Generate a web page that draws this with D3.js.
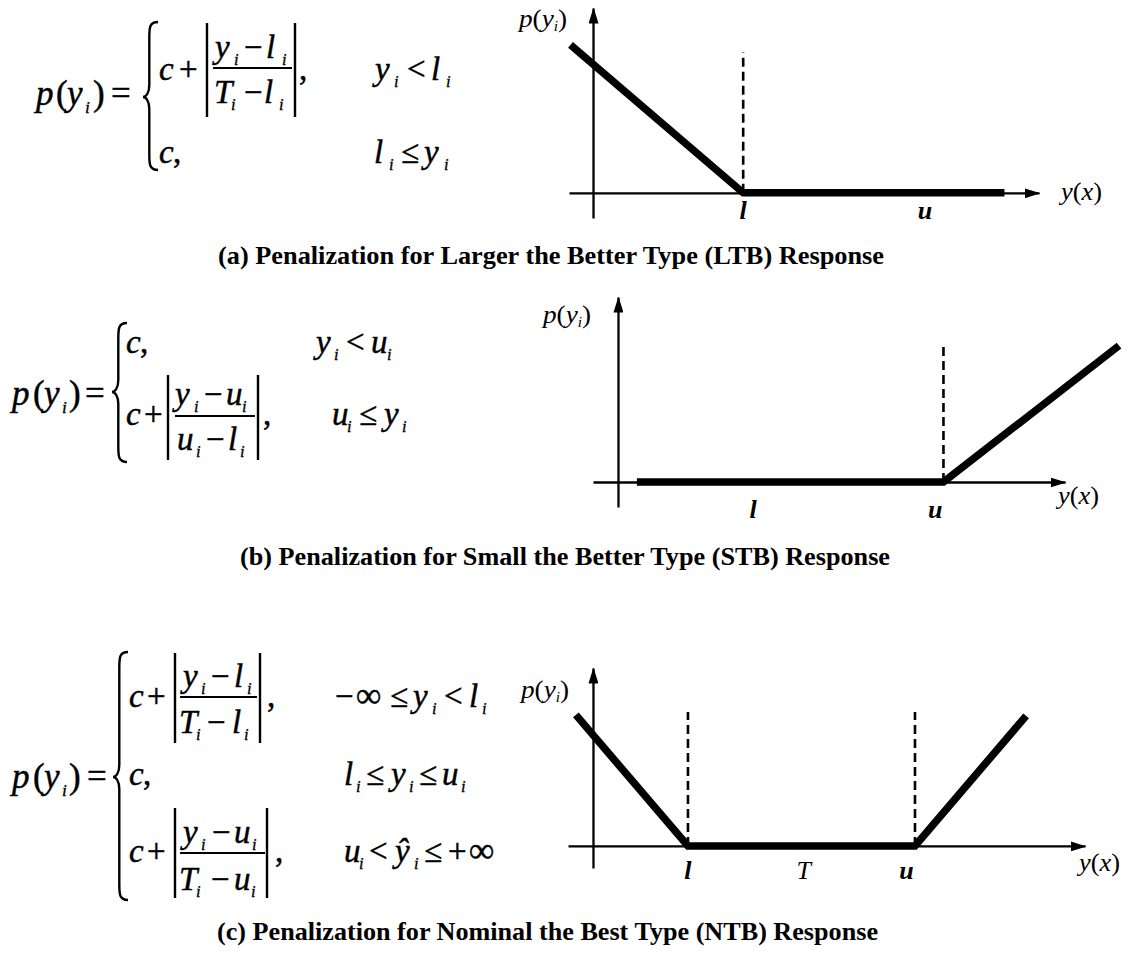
<!DOCTYPE html>
<html>
<head>
<meta charset="utf-8">
<script src="https://cdn.jsdelivr.net/npm/d3@7"></script>
<style>
  html, body { margin: 0; padding: 0; background: #fff; }
  svg { display: block; }
  text { font-family: "Liberation Serif", "Times New Roman", serif; fill: #000; }
</style>
</head>
<body>
<svg id="chart" width="1133" height="953"></svg>
<script>
// ---------------- DATA (schematic values, y-axis at x = 0, x-axis at p = 0) ----------------
// (a) Larger the Better
const ltbXDomain = [-0.16, 2.97];
const ltbYDomain = [-0.17, 1.25];
const ltbPenalty = [[-0.15, 1.0], [1.0, 0], [2.74, 0]];
const ltbLimits = [1.0];
const ltbLimitTop = 0.95;
const ltbTickValues = [1.0, 2.21];
const ltbTickLabels = ["l", "u"];

// (b) Small the Better
const stbXDomain = [-0.185, 3.31];
const stbYDomain = [-0.185, 1.37];
const stbPenalty = [[0.14, 0], [2.41, 0], [3.71, 1.01]];
const stbLimits = [2.41];
const stbLimitTop = 1.03;
const stbTickValues = [1.0, 2.35];
const stbTickLabels = ["l", "u"];

// (c) Nominal the Best
const ntbXDomain = [-0.263, 5.18];
const ntbYDomain = [-0.232, 1.874];
const ntbPenalty = [[-0.18, 1.38], [1.0, 0], [3.39, 0], [4.56, 1.37]];
const ntbLimits = [1.0, 3.39];
const ntbLimitTop = 1.41;
const ntbTickValues = [1.0, 2.22, 3.3];
const ntbTickLabels = ["l", "T", "u"];

const titles = [
  "(a) Penalization for Larger the Better Type (LTB) Response",
  "(b) Penalization for Small the Better Type (STB) Response",
  "(c) Penalization for Nominal the Best Type (NTB) Response"
];

// ---------------- LAYOUT ----------------
const svg = d3.select("#chart");
const defs = svg.append("defs");
defs.append("marker")
  .attr("id", "arrow")
  .attr("viewBox", "0 0 16 10")
  .attr("refX", 15).attr("refY", 5)
  .attr("markerWidth", 16).attr("markerHeight", 10)
  .attr("markerUnits", "userSpaceOnUse")
  .attr("orient", "auto")
  .append("path").attr("d", "M0,0 L16,5 L0,10 Z").attr("fill", "#000");

const panels = [
  { xDomain: ltbXDomain, yDomain: ltbYDomain, curve: ltbPenalty, limits: ltbLimits, limitTop: ltbLimitTop,
    ticks: ltbTickValues, tickLabels: ltbTickLabels,
    xRange: [569, 1039], yRange: [218, 8], tickBase: 219,
    pLabel: [519, 27], yxLabel: [1061, 200], title: [218, 264, 666] },
  { xDomain: stbXDomain, yDomain: stbYDomain, curve: stbPenalty, limits: stbLimits, limitTop: stbLimitTop,
    ticks: stbTickValues, tickLabels: stbTickLabels,
    xRange: [593, 1065], yRange: [507, 297], tickBase: 518,
    pLabel: [543, 323], yxLabel: [1058, 504], title: [240, 565, 650] },
  { xDomain: ntbXDomain, yDomain: ntbYDomain, curve: ntbPenalty, limits: ntbLimits, limitTop: ntbLimitTop,
    ticks: ntbTickValues, tickLabels: ntbTickLabels,
    xRange: [568, 1085], yRange: [868, 668], tickBase: 879,
    pLabel: [521, 698], yxLabel: [1079, 871], title: [217, 940, 661] }
];

panels.forEach((p, idx) => {
  const g = svg.append("g");
  const x = d3.scaleLinear().domain(p.xDomain).range(p.xRange);
  const y = d3.scaleLinear().domain(p.yDomain).range(p.yRange);

  const xa = g.append("g").attr("transform", `translate(0,${y(0)})`)
    .call(d3.axisBottom(x).tickValues([]).tickSizeOuter(0));
  xa.select(".domain").attr("stroke", "#000").attr("stroke-width", 2.3).attr("marker-end", "url(#arrow)");

  const ya = g.append("g").attr("transform", `translate(${x(0)},0)`)
    .call(d3.axisLeft(y).tickValues([]).tickSizeOuter(0));
  ya.select(".domain").attr("stroke", "#000").attr("stroke-width", 2.3).attr("marker-end", "url(#arrow)");

  g.selectAll("line.limit").data(p.limits).enter().append("line")
    .attr("class", "limit")
    .attr("x1", d => x(d)).attr("x2", d => x(d))
    .attr("y1", y(0)).attr("y2", y(p.limitTop))
    .attr("stroke", "#000").attr("stroke-width", 2.6)
    .attr("stroke-dasharray", "9,5");

  g.append("path").datum(p.curve)
    .attr("d", d3.line().x(d => x(d[0])).y(d => y(d[1])))
    .attr("fill", "none").attr("stroke", "#000").attr("stroke-width", 7.5)
    .attr("stroke-linejoin", "miter").attr("stroke-linecap", "butt");

  g.selectAll("text.tl").data(p.ticks).enter().append("text")
    .attr("class", "tl")
    .attr("x", d => x(d)).attr("y", p.tickBase)
    .attr("text-anchor", "middle")
    .attr("font-size", 26)
    .attr("font-style", "italic")
    .attr("font-weight", (d, i) => p.tickLabels[i] === "T" ? "normal" : "bold")
    .text((d, i) => p.tickLabels[i]);

  const pl = g.append("text").attr("x", p.pLabel[0]).attr("y", p.pLabel[1]).attr("font-size", 25)
    .attr("textLength", 48).attr("lengthAdjust", "spacingAndGlyphs");
  pl.append("tspan").attr("font-style", "italic").text("p");
  pl.append("tspan").text("(");
  pl.append("tspan").attr("font-style", "italic").text("y");
  pl.append("tspan").attr("font-style", "italic").attr("font-size", 14).attr("dy", 4).text("i");
  pl.append("tspan").attr("dy", -4).text(")");

  const yl = g.append("text").attr("x", p.yxLabel[0]).attr("y", p.yxLabel[1]).attr("font-size", 26)
    .attr("textLength", 41).attr("lengthAdjust", "spacingAndGlyphs");
  yl.append("tspan").attr("font-style", "italic").text("y");
  yl.append("tspan").text("(");
  yl.append("tspan").attr("font-style", "italic").text("x");
  yl.append("tspan").text(")");

  svg.append("text")
    .attr("x", p.title[0]).attr("y", p.title[1])
    .attr("font-size", 25).attr("font-weight", "bold")
    .attr("textLength", p.title[2]).attr("lengthAdjust", "spacingAndGlyphs")
    .text(titles[idx]);
});

// ---------------- FORMULAS ----------------
const fg = svg.append("g");

function tokens(list, baseline, size) {
  list.forEach(([t, x, k]) => {
    const sub = k === "s";
    fg.append("text")
      .attr("x", x)
      .attr("y", baseline + (sub ? size * 0.22 : 0))
      .attr("font-size", sub ? size * 0.5 : (k === "L" ? size * 1.08 : size))
      .attr("font-style", (k === "r" || k === "L") ? "normal" : "italic")
      .attr("stroke", "#000").attr("stroke-width", sub ? 0.3 : 0.45)
      .text(t);
  });
}
function bar(x, y0, y1) {
  fg.append("line").attr("x1", x).attr("x2", x).attr("y1", y0).attr("y2", y1)
    .attr("stroke", "#000").attr("stroke-width", 2.4);
}
function frac(x0, x1, y) {
  fg.append("line").attr("x1", x0).attr("x2", x1).attr("y1", y).attr("y2", y)
    .attr("stroke", "#000").attr("stroke-width", 1.8);
}
function brace(xL, xR, y0, y1, ym) {
  const xm = xL + (xR - xL) * 0.42;
  const d = `M${xR},${y0} C${xm},${y0} ${xm},${y0 + 6} ${xm},${y0 + 16}
    L${xm},${ym - 12} C${xm},${ym - 4} ${xL + 3},${ym} ${xL},${ym}
    C${xL + 3},${ym} ${xm},${ym + 4} ${xm},${ym + 12}
    L${xm},${y1 - 16} C${xm},${y1 - 6} ${xm},${y1} ${xR},${y1}`;
  fg.append("path").attr("d", d).attr("fill", "none").attr("stroke", "#000").attr("stroke-width", 2.4);
}

const FS = 33, LS = 35;
// (a)
tokens([["p",36,"i"],["(",56,"r"],["y",67,"i"],["i",85,"s"],[")",93,"r"],["=",111,"r"]], 105, LS);
brace(143, 158, 22, 170, 97);
tokens([["c",159,"i"],["+",179,"r"],[",",299,"r"]], 80, FS);
bar(207, 23, 117); bar(295, 23, 117); frac(213, 292, 68);
tokens([["y",215,"i"],["i",234,"s"],["\u2212",244,"r"],["l",266,"i"],["i",282,"s"]], 58, FS);
tokens([["T",214,"i"],["i",231,"s"],["\u2212",244,"r"],["l",264,"i"],["i",279,"s"]], 103, FS);
tokens([["y",375,"i"],["i",394,"s"],["<",407,"r"],["l",431,"i"],["i",446,"s"]], 80, FS);
tokens([["c",159,"i"],[",",173,"r"]], 163, FS);
tokens([["l",374,"i"],["i",389,"s"],["\u2264",401,"r"],["y",424,"i"],["i",444,"s"]], 163, FS);

// (b)
tokens([["p",12,"i"],["(",33,"r"],["y",44,"i"],["i",62,"s"],[")",69,"r"],["=",85,"r"]], 405, LS);
brace(112, 127, 323, 462, 392);
tokens([["c",126,"i"],[",",140,"r"]], 353, FS);
tokens([["y",316,"i"],["i",334,"s"],["<",346,"r"],["u",371,"i"],["i",387,"s"]], 353, FS);
tokens([["c",126,"i"],["+",144,"r"],[",",263,"r"]], 425, FS);
bar(168, 375, 460); bar(258, 375, 460); frac(175, 255, 416);
tokens([["y",175,"i"],["i",194,"s"],["\u2212",204,"r"],["u",226,"i"],["i",242,"s"]], 405, FS);
tokens([["u",177,"i"],["i",196,"s"],["\u2212",206,"r"],["l",228,"i"],["i",240,"s"]], 450, FS);
tokens([["u",332,"i"],["i",347,"s"],["\u2264",359,"r"],["y",384,"i"],["i",402,"s"]], 425, FS);

// (c)
tokens([["p",12,"i"],["(",33,"r"],["y",44,"i"],["i",62,"s"],[")",69,"r"],["=",87,"r"]], 788, LS);
brace(113, 128, 652, 900, 777);
tokens([["c",129,"i"],["+",147,"r"],[",",267,"r"]], 707, FS);
bar(175, 653, 743); bar(260, 653, 743); frac(180, 257, 697);
tokens([["y",183,"i"],["i",201,"s"],["\u2212",211,"r"],["l",234,"i"],["i",247,"s"]], 687, FS);
tokens([["T",179,"i"],["i",196,"s"],["\u2212",207,"r"],["l",232,"i"],["i",244,"s"]], 733, FS);
tokens([["\u2212",335,"r"],["\u221E",356,"L"],["\u2264",390,"r"],["y",413,"i"],["i",432,"s"],["<",444,"r"],["l",469,"i"],["i",482,"s"]], 707, FS);
tokens([["c",129,"i"],[",",143,"r"]], 785, FS);
tokens([["l",344,"i"],["i",356,"s"],["\u2264",366,"r"],["y",391,"i"],["i",409,"s"],["\u2264",419,"r"],["u",442,"i"],["i",461,"s"]], 785, FS);
tokens([["c",129,"i"],["+",147,"r"],[",",275,"r"]], 862, FS);
bar(175, 808, 898); bar(267, 808, 898); frac(180, 265, 853);
tokens([["y",183,"i"],["i",201,"s"],["\u2212",212,"r"],["u",234,"i"],["i",252,"s"]], 843, FS);
tokens([["T",179,"i"],["i",196,"s"],["\u2212",211,"r"],["u",234,"i"],["i",251,"s"]], 890, FS);
tokens([["u",344,"i"],["i",359,"s"],["<",369,"r"],["\u0177",395,"i"],["i",414,"s"],["\u2264",424,"r"],["+",448,"r"],["\u221E",469,"L"]], 862, FS);
</script>
</body>
</html>
